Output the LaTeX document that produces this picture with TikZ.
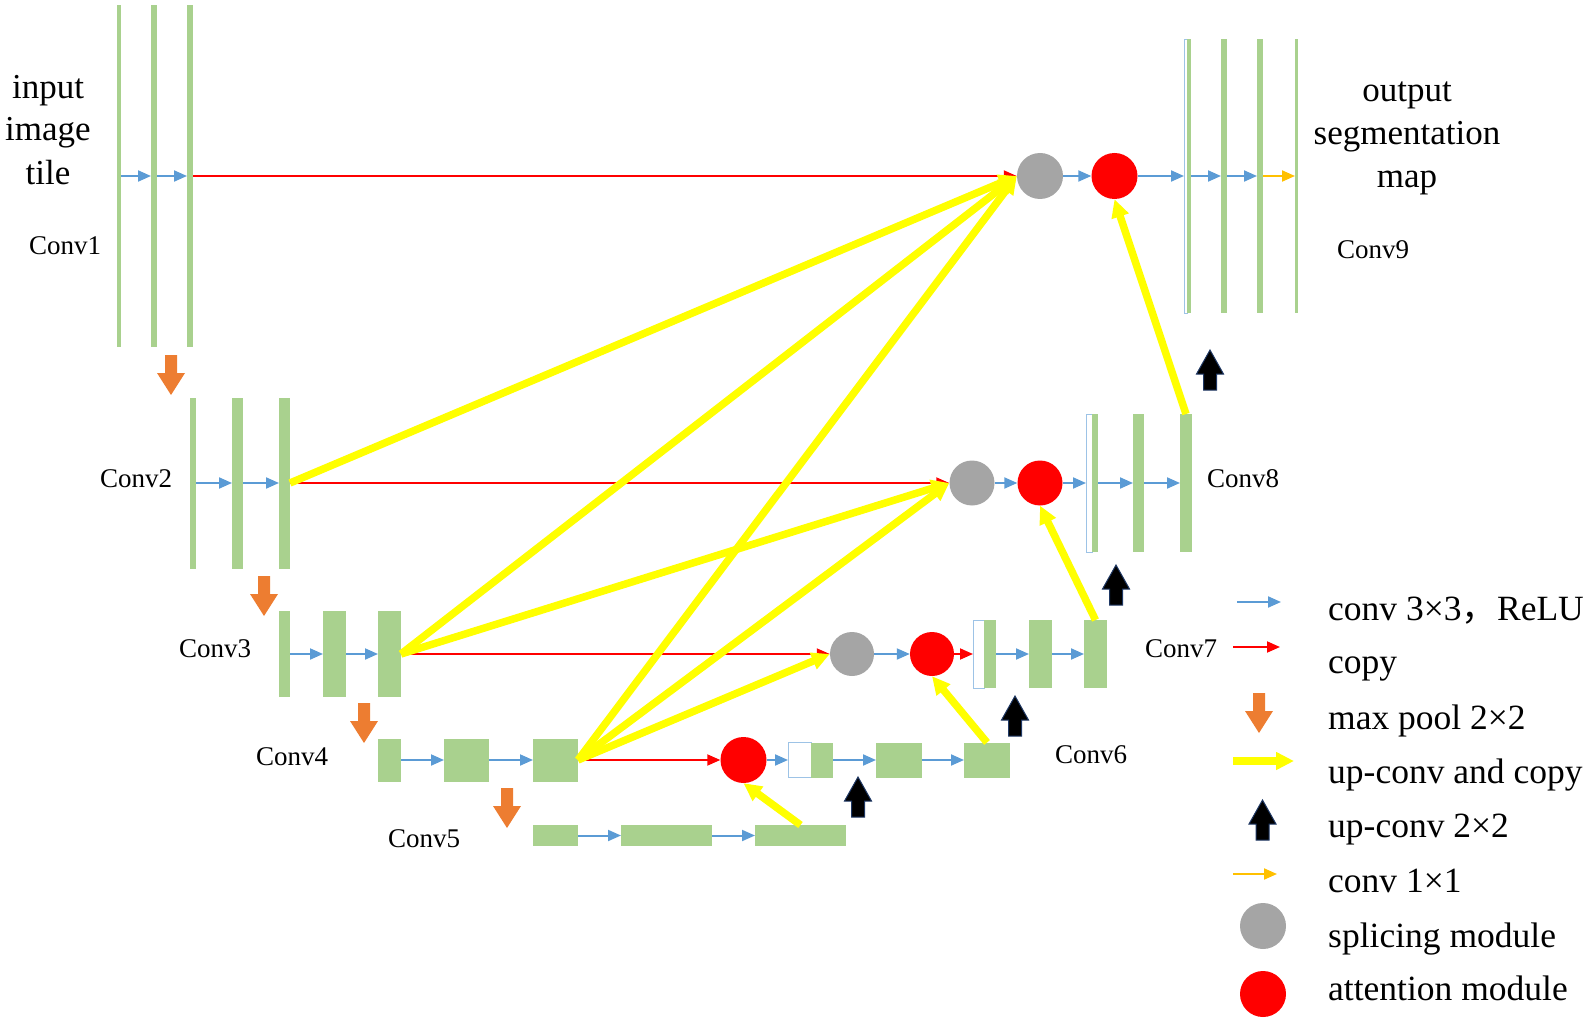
\documentclass[tikz,border=0pt]{standalone}
\usepackage{fontspec}
\setmainfont{Liberation Serif}
\newfontfamily\cjk{Noto Sans CJK SC}
\usetikzlibrary{arrows.meta}
\definecolor{barg}{HTML}{A9D18E}
\definecolor{cblue}{HTML}{5B9BD5}
\definecolor{cred}{HTML}{FF0000}
\definecolor{corange}{HTML}{ED7D31}
\definecolor{cyellow}{HTML}{FFFF00}
\definecolor{cgold}{HTML}{FFC000}
\definecolor{cgray}{HTML}{A5A5A5}
\definecolor{cedge}{HTML}{9DC3E6}
\definecolor{cnavy}{HTML}{1F3864}
\tikzset{
  poolarr/.pic={\fill[corange] (-6,-20) -- (6,-20) -- (6,-2) -- (14,-2) -- (0,20) -- (-14,-2) -- (-6,-2) -- cycle;},
  uparr/.pic={\filldraw[fill=black, draw=cnavy, line width=1pt] (-6.5,20) -- (6.5,20) -- (6.5,4) -- (13.5,4) -- (0,-20) -- (-13.5,4) -- (-6.5,4) -- cycle;}
}
\begin{document}
\begin{tikzpicture}[x=1pt,y=-1pt,
  bar/.style={fill=barg, draw=none, inner sep=0pt, outer sep=0pt},
  wbar/.style={fill=white, draw=cedge, line width=0.8pt, inner sep=0pt, outer sep=0pt},
  gcirc/.style={circle, fill=cgray, inner sep=0pt, minimum size=46pt},
  acirc/.style={circle, fill=cred, inner sep=0pt, minimum size=46pt},
  lbl/.style={font=\fontsize{27}{30}\selectfont, inner sep=0pt, anchor=base west},
  big/.style={font=\fontsize{35}{42}\selectfont, inner sep=0pt, anchor=base},
  leg/.style={font=\fontsize{35.5}{42}\selectfont, inner sep=0pt, anchor=base west},
  conv/.style={draw=cblue, line width=2pt, -{Triangle[length=13pt,width=11pt]}},
  copyl/.style={draw=cred, line width=1.8pt, -{Triangle[length=13pt,width=11pt]}},
  conv1/.style={draw=cgold, line width=2pt, -{Triangle[length=13pt,width=11pt]}},
  upcopy/.style={draw=cyellow, line width=7.5pt, -{Triangle[length=18pt,width=17pt]}}
]
\useasboundingbox (0,0) rectangle (1593,1032);

% ---------- encoder ----------
\node[bar, minimum width=4, minimum height=342] (c1a) at (119,176) {};
\node[bar, minimum width=6, minimum height=342] (c1b) at (154,176) {};
\node[bar, minimum width=6, minimum height=342] (c1c) at (190,176) {};

\node[bar, minimum width=6, minimum height=171] (c2a) at (193,483) {};
\node[bar, minimum width=11, minimum height=171] (c2b) at (237.5,483) {};
\node[bar, minimum width=11, minimum height=171] (c2c) at (284.5,483) {};

\node[bar, minimum width=11, minimum height=86] (c3a) at (284.5,654) {};
\node[bar, minimum width=23, minimum height=86] (c3b) at (334.5,654) {};
\node[bar, minimum width=23, minimum height=86] (c3c) at (389.5,654) {};

\node[bar, minimum width=23, minimum height=43] (c4a) at (389.5,760) {};
\node[bar, minimum width=45, minimum height=43] (c4b) at (466.5,760) {};
\node[bar, minimum width=45, minimum height=43] (c4c) at (555.5,760) {};

\node[bar, minimum width=45, minimum height=21] (c5a) at (555.5,835.5) {};
\node[bar, minimum width=91, minimum height=21] (c5b) at (666.5,835.5) {};
\node[bar, minimum width=91, minimum height=21] (c5c) at (800.5,835.5) {};

% ---------- decoder level 4 ----------
\node[acirc] (att4) at (743.5,760) {};
\node[wbar, minimum width=23, minimum height=35] (w4) at (799.5,760) {};
\node[bar, minimum width=22, minimum height=35] (g4) at (822,760) {};
\node[bar, minimum width=46, minimum height=35] (d4b) at (899,760) {};
\node[bar, minimum width=46, minimum height=35] (d4c) at (987,760) {};

% ---------- decoder level 3 ----------
\node[gcirc, minimum size=44pt] (gray3) at (852,654) {};
\node[acirc, minimum size=44pt] (att3) at (932,654) {};
\node[wbar, minimum width=11, minimum height=68] (w3) at (978.5,654) {};
\node[bar, minimum width=12, minimum height=68] (g3) at (990,654) {};
\node[bar, minimum width=23, minimum height=68] (d3b) at (1040.5,654) {};
\node[bar, minimum width=23, minimum height=68] (d3c) at (1095.5,654) {};

% ---------- decoder level 2 ----------
\node[gcirc, minimum size=45pt] (gray2) at (972,483) {};
\node[acirc, minimum size=45pt] (att2) at (1040,483) {};
\node[wbar, minimum width=6, minimum height=138] (w2) at (1089,483) {};
\node[bar, minimum width=6, minimum height=138] (g2) at (1095,483) {};
\node[bar, minimum width=11, minimum height=138] (d2b) at (1138.5,483) {};
\node[bar, minimum width=12, minimum height=138] (d2c) at (1186,483) {};

% ---------- decoder level 1 ----------
\node[gcirc] (gray1) at (1040,176) {};
\node[acirc] (att1) at (1114.5,176) {};
\node[wbar, minimum width=3, minimum height=274] (w1) at (1185.5,176) {};
\node[bar, minimum width=4, minimum height=274] (g1) at (1189,176) {};
\node[bar, minimum width=6, minimum height=274] (d1b) at (1224,176) {};
\node[bar, minimum width=6, minimum height=274] (d1c) at (1260,176) {};
\node[bar, minimum width=3, minimum height=274] (d1d) at (1296.5,176) {};

% ---------- conv arrows ----------
\draw[conv] (c1a) -- (c1b);
\draw[conv] (c1b) -- (c1c);
\draw[conv] (c2a) -- (c2b);
\draw[conv] (c2b) -- (c2c);
\draw[conv] (c3a) -- (c3b);
\draw[conv] (c3b) -- (c3c);
\draw[conv] (c4a) -- (c4b);
\draw[conv] (c4b) -- (c4c);
\draw[conv] (c5a) -- (c5b);
\draw[conv] (c5b) -- (c5c);

\draw[conv] (att4) -- (w4);
\draw[conv] (g4) -- (d4b);
\draw[conv] (d4b) -- (d4c);

\draw[conv] (gray3) -- (att3);
\draw[copyl] (att3) -- (w3);
\draw[conv] (g3) -- (d3b);
\draw[conv] (d3b) -- (d3c);

\draw[conv] (gray2) -- (att2);
\draw[conv] (att2) -- (w2);
\draw[conv] (g2) -- (d2b);
\draw[conv] (d2b) -- (d2c);

\draw[conv] (gray1) -- (att1);
\draw[conv] (att1) -- (w1);
\draw[conv] (g1) -- (d1b);
\draw[conv] (d1b) -- (d1c);
\draw[conv1] (d1c) -- (d1d);

% ---------- copy (red) ----------
\draw[copyl] (c1c.east) -- (gray1.west);
\draw[copyl] (c2c.east) -- (gray2.west);
\draw[copyl] (c3c.east) -- (gray3.west);
\draw[copyl] (c4c.east) -- (att4.west);

% ---------- up-conv and copy (yellow) ----------
\draw[upcopy] (c2c.east) -- (gray1.west);
\draw[upcopy] (c3c.east) -- (gray1.west);
\draw[upcopy] (c4c.east) -- (gray1.west);
\draw[upcopy] (c3c.east) -- (gray2.west);
\draw[upcopy] (c4c.east) -- (gray2.west);
\draw[upcopy] (c4c.east) -- (gray3.west);
\draw[upcopy] (c5c.north) -- (att4.south);
\draw[upcopy] (d4c.north) -- (att3.south);
\draw[upcopy] (d3c.north) -- (att2.south);
\draw[upcopy] (d2c.north) -- (att1.south);

% ---------- max pool and up-conv arrows ----------
\pic at (171,375) {poolarr};
\pic at (264,596) {poolarr};
\pic at (364,723) {poolarr};
\pic at (507,808) {poolarr};
\pic at (858,797) {uparr};
\pic at (1015,716) {uparr};
\pic at (1116,585) {uparr};
\pic at (1210,370) {uparr};

% ---------- labels ----------
\node[big] (tin1) at (48,99) {input};
\node[big] (tin2) at (48,141) {image};
\node[big] (tin3) at (48,185) {tile};
\node[big] (tout1) at (1407,102) {output};
\node[big] (tout2) at (1407,145) {segmentation};
\node[big] (tout3) at (1407,188) {map};

\node[lbl] (l1) at (29,255) {Conv1};
\node[lbl] (l2) at (100,487) {Conv2};
\node[lbl] (l3) at (179,657) {Conv3};
\node[lbl] (l4) at (256,765) {Conv4};
\node[lbl] (l5) at (388,847) {Conv5};
\node[lbl] (l6) at (1055,763) {Conv6};
\node[lbl] (l7) at (1145,657) {Conv7};
\node[lbl] (l8) at (1207,487) {Conv8};
\node[lbl] (l9) at (1337,259) {Conv9};

% ---------- legend ----------
\coordinate (k1a) at (1237,602); \coordinate (k1b) at (1281,602);
\coordinate (k2a) at (1233,647); \coordinate (k2b) at (1280,647);
\coordinate (k4a) at (1233,761); \coordinate (k4b) at (1294,761);
\coordinate (k6a) at (1233,874); \coordinate (k6b) at (1277,874);
\draw[conv] (k1a) -- (k1b);
\draw[copyl] (k2a) -- (k2b);
\pic at (1259,713) {poolarr};
\draw[upcopy] (k4a) -- (k4b);
\pic at (1262.5,820) {uparr};
\draw[conv1] (k6a) -- (k6b);
\node[gcirc] (kg) at (1263,926) {};
\node[acirc] (ka) at (1263,994) {};

\node[leg] (t1) at (1328,620) {conv 3×3{\cjk ，}ReLU};
\node[leg] (t2) at (1328,673) {copy};
\node[leg] (t3) at (1328,729) {max pool 2×2};
\node[leg] (t4) at (1328,783) {up-conv and copy};
\node[leg] (t5) at (1328,837) {up-conv 2×2};
\node[leg] (t6) at (1328,892) {conv 1×1};
\node[leg] (t7) at (1328,947) {splicing module};
\node[leg] (t8) at (1328,1000) {attention module};
\end{tikzpicture}
\end{document}
